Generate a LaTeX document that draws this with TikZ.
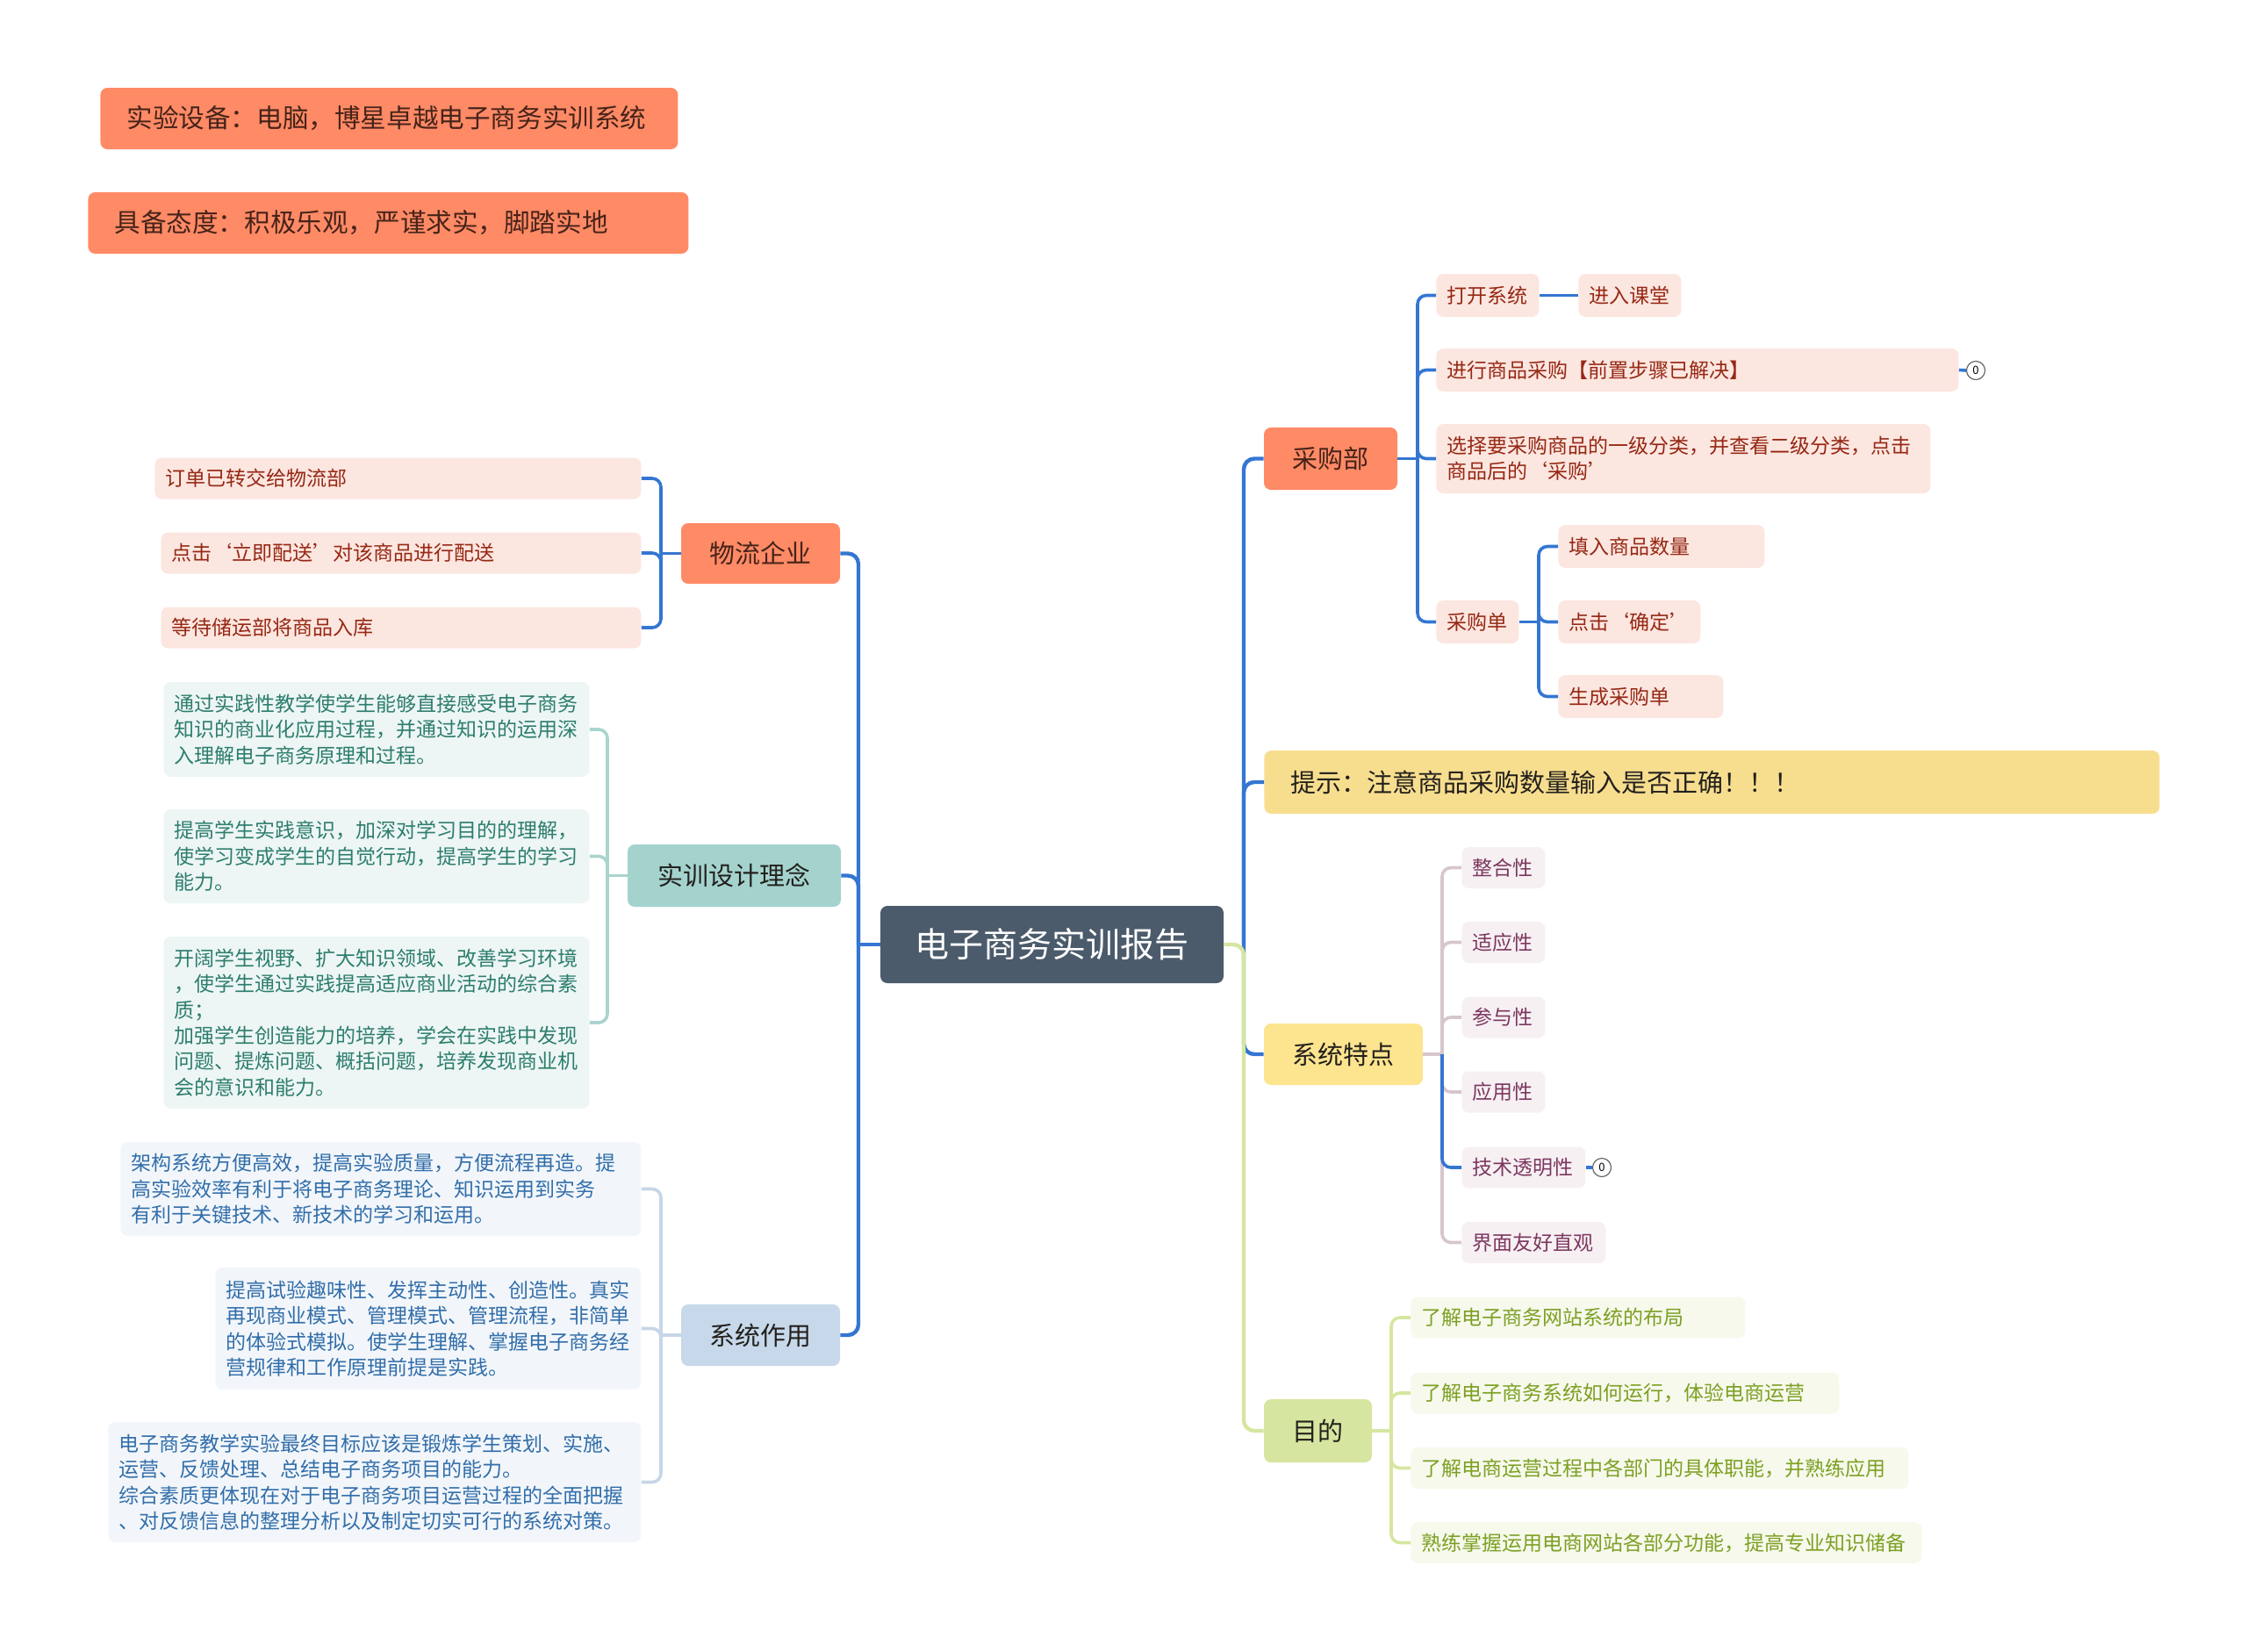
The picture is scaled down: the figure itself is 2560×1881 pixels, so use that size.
\documentclass[tikz,border=0pt]{standalone}
\usepackage{fontspec}
\setmainfont{Noto Sans CJK SC}
\usepackage{tikz}
\usepackage{xcolor}
\usetikzlibrary{positioning}
\definecolor{ecCoral}{RGB}{255,138,102}
\definecolor{ecCoralInk}{RGB}{70,35,25}
\definecolor{ecSlate}{RGB}{75,91,107}
\definecolor{ecTeal}{RGB}{164,211,206}
\definecolor{ecSky}{RGB}{198,216,234}
\definecolor{ecGold}{RGB}{247,222,143}
\definecolor{ecButter}{RGB}{253,228,143}
\definecolor{ecLime}{RGB}{214,230,160}
\definecolor{ecInk}{RGB}{35,32,28}
\definecolor{ecBlue}{RGB}{52,118,210}
\definecolor{ecPeach}{RGB}{252,230,224}
\definecolor{ecPeachInk}{RGB}{150,40,20}
\definecolor{ecMint}{RGB}{237,246,244}
\definecolor{ecMintInk}{RGB}{45,125,110}
\definecolor{ecMist}{RGB}{242,246,250}
\definecolor{ecMistInk}{RGB}{50,110,170}
\definecolor{ecBlush}{RGB}{246,240,243}
\definecolor{ecBlushInk}{RGB}{125,55,95}
\definecolor{ecCream}{RGB}{246,249,236}
\definecolor{ecCreamInk}{RGB}{125,160,35}
\definecolor{ecTealLine}{RGB}{170,212,206}
\definecolor{ecSkyLine}{RGB}{198,214,230}
\definecolor{ecBlushLine}{RGB}{214,198,206}
\newcommand{\leaffont}{\fontsize{11.5}{14.7}\selectfont}
\newcommand{\foldbadge}[2]{%
  \node[circle,draw=black!60,fill=white,line width=0.6pt,inner sep=0pt,
    minimum size=10.5pt,font=\fontsize{6.5}{6.5}\selectfont] (#1) at (#2) {0};
}
\tikzset{
  topic/.style={rounded corners=4pt,inner sep=0pt,align=center,
    font=\fontsize{14.5}{17}\selectfont,text=ecInk},
  leaf/.style={rounded corners=4pt,inner xsep=6pt,inner ysep=0pt,anchor=west,
    align=left,font=\leaffont,minimum height=23.5pt},
  peach/.style={leaf,fill=ecPeach,text=ecPeachInk},
  mint/.style={leaf,fill=ecMint,text=ecMintInk},
  mist/.style={leaf,fill=ecMist,text=ecMistInk},
  blush/.style={leaf,fill=ecBlush,text=ecBlushInk},
  cream/.style={leaf,fill=ecCream,text=ecCreamInk},
  trunk/.style={draw=#1,line width=2.2pt,rounded corners=6pt},
  twig/.style={draw=#1,line width=1.8pt,rounded corners=5pt}
}

\begin{document}
\begin{tikzpicture}[x=0.5pt,y=-0.5pt]
  \useasboundingbox (0,0) rectangle (2560,1881);

  % notes at the top left
  \node[topic,fill=ecCoral,text=ecCoralInk,anchor=west,align=left,inner xsep=15pt,
    text width=299pt,minimum height=35pt,font=\fontsize{14.8}{17}\selectfont] (gear) at (114,135)
    {实验设备：电脑，博星卓越电子商务实训系统};
  \node[topic,fill=ecCoral,text=ecCoralInk,anchor=west,align=left,inner xsep=15pt,
    text width=312pt,minimum height=35pt,font=\fontsize{14.8}{17}\selectfont] (mind) at (100,254)
    {具备态度：积极乐观，严谨求实，脚踏实地};

  % centre and main topics
  \node[topic,fill=ecSlate,text=white,font=\fontsize{19.5}{22}\selectfont,
    minimum width=195.5pt,minimum height=44pt] (root) at (1198.5,1076) {电子商务实训报告};
  \node[topic,fill=ecCoral,text=ecCoralInk,minimum width=90.5pt,minimum height=34.5pt] (wl) at (866.5,630.5) {物流企业};
  \node[topic,fill=ecTeal,minimum width=121.5pt,minimum height=35.5pt] (sx) at (836.5,997.5) {实训设计理念};
  \node[topic,fill=ecSky,minimum width=90.5pt,minimum height=35pt] (zy) at (866.5,1521) {系统作用};
  \node[topic,fill=ecCoral,text=ecCoralInk,minimum width=76pt,minimum height=35.5pt] (cg) at (1516,522.5) {采购部};
  \node[topic,fill=ecGold,anchor=west,align=left,inner xsep=15pt,text width=480pt,
    minimum height=36pt] (ts) at (1440,891) {提示：注意商品采购数量输入是否正确！！！};
  \node[topic,fill=ecButter,minimum width=90.5pt,minimum height=35pt] (td) at (1530.5,1201) {系统特点};
  \node[topic,fill=ecLime,minimum width=61.5pt,minimum height=36pt] (md) at (1501.5,1630) {目的};

  % 物流企业
  \node[peach,text width=265pt] (wl1) at (176,545) {订单已转交给物流部};
  \node[peach,text width=261.5pt] (wl2) at (183,630) {点击‘立即配送’对该商品进行配送};
  \node[peach,text width=261.5pt] (wl3) at (183,715) {等待储运部将商品入库};

  % 实训设计理念
  \node[mint,text width=230.5pt,minimum height=54pt] (sx1) at (186,831)
    {通过实践性教学使学生能够直接感受电子商务\\知识的商业化应用过程，并通过知识的运用深\\入理解电子商务原理和过程。};
  \node[mint,text width=230.5pt,minimum height=53.5pt] (sx2) at (186,975.5)
    {提高学生实践意识，加深对学习目的的理解，\\使学习变成学生的自觉行动，提高学生的学习\\能力。};
  \node[mint,text width=230.5pt,minimum height=98pt] (sx3) at (186,1165)
    {开阔学生视野、扩大知识领域、改善学习环境\\，使学生通过实践提高适应商业活动的综合素\\质；\\加强学生创造能力的培养，学会在实践中发现\\问题、提炼问题、概括问题，培养发现商业机\\会的意识和能力。};

  % 系统作用
  \node[mist,text width=284.5pt,minimum height=53.5pt] (zy1) at (137,1354.5)
    {架构系统方便高效，提高实验质量，方便流程再造。提\\高实验效率有利于将电子商务理论、知识运用到实务\\有利于关键技术、新技术的学习和运用。};
  \node[mist,text width=230.5pt,minimum height=69.5pt] (zy2) at (245,1513.5)
    {提高试验趣味性、发挥主动性、创造性。真实\\再现商业模式、管理模式、管理流程，非简单\\的体验式模拟。使学生理解、掌握电子商务经\\营规律和工作原理前提是实践。};
  \node[mist,text width=291.5pt,minimum height=68.5pt] (zy3) at (123,1688.5)
    {电子商务教学实验最终目标应该是锻炼学生策划、实施、\\运营、反馈处理、总结电子商务项目的能力。\\综合素质更体现在对于电子商务项目运营过程的全面把握\\、对反馈信息的整理分析以及制定切实可行的系统对策。};

  % 采购部
  \node[peach,text width=46.5pt,minimum height=24.5pt] (ck1) at (1636,336.5) {打开系统};
  \node[peach,text width=46.5pt,minimum height=24.5pt] (ck1b) at (1798,336.5) {进入课堂};
  \node[peach,text width=285.5pt,minimum height=24.5pt] (ck2) at (1636,421.5) {进行商品采购【前置步骤已解决】};
  \node[peach,text width=269.5pt,minimum height=39.5pt] (ck3) at (1636,522.5)
    {选择要采购商品的一级分类，并查看二级分类，点击\\商品后的‘采购’};
  \node[peach,text width=35pt,minimum height=24.5pt] (ck4) at (1636,708.5) {采购单};
  \node[peach,text width=105.5pt,minimum height=24.5pt] (cd1) at (1775,622.5) {填入商品数量};
  \node[peach,text width=69pt,minimum height=24.5pt] (cd2) at (1775,708.5) {点击‘确定’};
  \node[peach,text width=82pt,minimum height=24.5pt] (cd3) at (1775,793.5) {生成采购单};
  \foldbadge{fold1}{2251,422}

  % 系统特点
  \node[blush,text width=35.5pt] (tz1) at (1665,988.5) {整合性};
  \node[blush,text width=35.5pt] (tz2) at (1665,1073.5) {适应性};
  \node[blush,text width=35.5pt] (tz3) at (1665,1159) {参与性};
  \node[blush,text width=35.5pt] (tz4) at (1665,1244) {应用性};
  \node[blush,text width=58.5pt] (tz5) at (1665,1330) {技术透明性};
  \node[blush,text width=70pt] (tz6) at (1665,1415.5) {界面友好直观};
  \foldbadge{fold2}{1825,1330}

  % 目的
  \node[cream,text width=178.5pt] (md1) at (1607,1501) {了解电子商务网站系统的布局};
  \node[cream,text width=232pt] (md2) at (1607,1587) {了解电子商务系统如何运行，体验电商运营};
  \node[cream,text width=271.5pt] (md3) at (1607,1672.5) {了解电商运营过程中各部门的具体职能，并熟练应用};
  \node[cream,text width=279pt] (md4) at (1607,1757.5) {熟练掌握运用电商网站各部分功能，提高专业知识储备};

  % connectors
  \coordinate (lspine) at (978,1076);
  \coordinate (rspine) at (1417,1076);
  \draw[trunk=ecBlue] (root.west) -- (lspine);
  \foreach \t in {wl,sx,zy} \draw[trunk=ecBlue] (lspine) |- (\t.east);
  \foreach \t in {cg,ts,td} \draw[trunk=ecBlue] (rspine) |- (\t.west);
  \draw[trunk=ecLime] (root.east) -- (rspine) |- (md.west);

  \coordinate (wlS) at (753,630.5);
  \draw[twig=ecBlue] (wl.west) -- (wlS);
  \foreach \c in {wl1,wl2,wl3} \draw[twig=ecBlue] (wlS) |- (\c.east);

  \coordinate (sxS) at (692,997.5);
  \draw[twig=ecTealLine] (sx.west) -- (sxS);
  \foreach \c in {sx1,sx2,sx3} \draw[twig=ecTealLine] (sxS) |- (\c.east);

  \coordinate (zyS) at (753,1521);
  \draw[twig=ecSkyLine] (zy.west) -- (zyS);
  \foreach \c in {zy1,zy2,zy3} \draw[twig=ecSkyLine] (zyS) |- (\c.east);

  \coordinate (cgS) at (1615,522.5);
  \draw[twig=ecBlue] (cg.east) -- (cgS);
  \foreach \c in {ck1,ck2,ck3,ck4} \draw[twig=ecBlue] (cgS) |- (\c.west);
  \draw[twig=ecBlue] (ck1.east) -- (ck1b.west);
  \draw[twig=ecBlue] (ck2.east) -- (fold1.west);

  \coordinate (ck4S) at (1753,708.5);
  \draw[twig=ecBlue] (ck4.east) -- (ck4S);
  \foreach \c in {cd1,cd2,cd3} \draw[twig=ecBlue] (ck4S) |- (\c.west);

  \coordinate (tdS) at (1643,1201);
  \draw[twig=ecBlushLine] (td.east) -- (tdS);
  \foreach \c in {tz1,tz2,tz3,tz4,tz6} \draw[twig=ecBlushLine] (tdS) |- (\c.west);
  \draw[twig=ecBlue] (tdS) |- (tz5.west);
  \draw[twig=ecBlue] (tz5.east) -- (fold2.west);

  \coordinate (mdS) at (1585,1630);
  \draw[twig=ecLime] (md.east) -- (mdS);
  \foreach \c in {md1,md2,md3,md4} \draw[twig=ecLime] (mdS) |- (\c.west);
\end{tikzpicture}
\end{document}
